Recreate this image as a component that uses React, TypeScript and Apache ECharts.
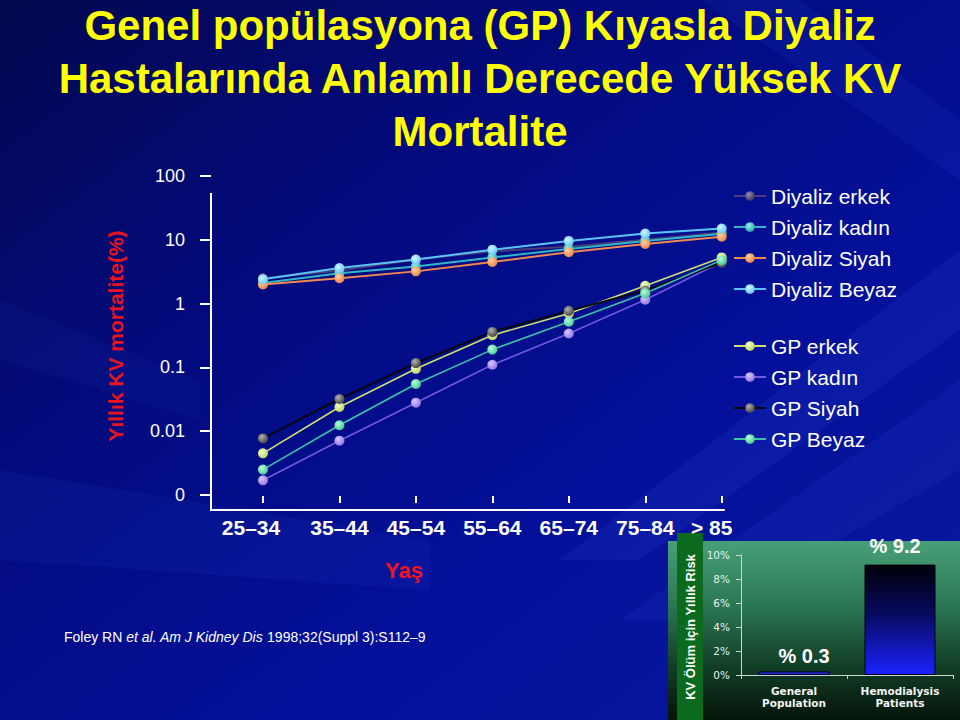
import React, { useEffect, useRef } from "react";
import * as echarts from "echarts";

// ---------- data ----------
const ageGroups = ["25–34", "35–44", "45–54", "55–64", "65–74", "75–84", "> 85"];
const ageIndex = [0, 1, 2, 3, 4, 5, 6];

const dialysisMale = [2.5, 3.3, 4.9, 6.6, 7.8, 10.0, 13.0];
const dialysisFemale = [2.1, 3.0, 3.8, 5.3, 7.2, 9.6, 12.4];
const dialysisBlack = [2.0, 2.5, 3.2, 4.5, 6.4, 8.6, 11.2];
const dialysisWhite = [2.4, 3.6, 4.9, 7.0, 9.6, 12.5, 15.0];

const gpMale = [0.0045, 0.024, 0.095, 0.32, 0.7, 1.9, 5.3];
const gpFemale = [0.0017, 0.0071, 0.028, 0.11, 0.34, 1.15, 4.5];
const gpBlack = [0.0077, 0.032, 0.117, 0.36, 0.77, 1.6, 4.4];
const gpWhite = [0.0025, 0.0124, 0.055, 0.19, 0.52, 1.45, 4.8];

const yTickValues = [0.001, 0.01, 0.1, 1, 10, 100];
const yTickLabels = ["0", "0.01", "0.1", "1", "10", "100"];

const insetCategories = ["General\nPopulation", "Hemodialysis\nPatients"];
const insetValues = [0.3, 9.2];

// ---------- styles ----------
const FONT = "Liberation Sans, Arial, sans-serif";

const seriesDefs = [
  { name: "Diyaliz erkek", data: dialysisMale, line: "#4a3c7a", light: "#9a8cb8", dark: "#3a2c5a", width: 2 },
  { name: "Diyaliz kadın", data: dialysisFemale, line: "#2fb6c8", light: "#8ff0e8", dark: "#2aa8a8", width: 2 },
  { name: "Diyaliz Siyah", data: dialysisBlack, line: "#f08850", light: "#ffd0a0", dark: "#e88040", width: 2 },
  { name: "Diyaliz Beyaz", data: dialysisWhite, line: "#5cc4f4", light: "#d0f4ff", dark: "#60c8f0", width: 2 },
  { name: "GP erkek", data: gpMale, line: "#cfe070", light: "#f4ffc0", dark: "#b8d060", width: 1.6 },
  { name: "GP kadın", data: gpFemale, line: "#7058e0", light: "#d8c8ff", dark: "#9070e0", width: 1.6 },
  { name: "GP Siyah", data: gpBlack, line: "#08080e", light: "#b0b0b0", dark: "#404040", width: 2 },
  { name: "GP Beyaz", data: gpWhite, line: "#3cc4a8", light: "#b8ffd8", dark: "#40c890", width: 1.6 },
];

const xMin = -0.68;
const xMax = 6.03;

function findTickLabel(v: number) {
  for (let i = 0; i < yTickValues.length; i++) {
    if (Math.abs(Math.log10(v) - Math.log10(yTickValues[i])) < 0.01) return yTickLabels[i];
  }
  return "";
}

const xLabelNudge: Record<number, string> = { 0: "a", 6: "b" };

const streak = (pts: number[][], alpha: number) => ({
  type: "polygon",
  z: -30,
  silent: true,
  shape: { points: pts },
  style: { fill: `rgba(70,110,255,${alpha})` },
});

function buildOption(): any {
  const lineSeries = seriesDefs.map((s) => ({
    type: "line",
    name: s.name,
    xAxisIndex: 0,
    yAxisIndex: 0,
    data: s.data.map((v, i) => [ageIndex[i], v]),
    symbol: "circle",
    symbolSize: 10,
    lineStyle: { color: s.line, width: s.width },
    itemStyle: {
      color: {
        type: "radial",
        x: 0.38,
        y: 0.35,
        r: 0.7,
        colorStops: [
          { offset: 0, color: s.light },
          { offset: 1, color: s.dark },
        ],
      },
    },
  }));

  const legendText = { color: "#ffffff", fontSize: 21, fontFamily: FONT, lineHeight: 22 };

  return {
    animation: false,
    backgroundColor: {
      type: "linear",
      x: 0,
      y: 0,
      x2: 1,
      y2: 1,
      colorStops: [
        { offset: 0, color: "#03084e" },
        { offset: 0.3, color: "#020a7a" },
        { offset: 0.65, color: "#04109a" },
        { offset: 1, color: "#0a1a9e" },
      ],
    },
    title: {
      text: "Genel popülasyona (GP) Kıyasla Diyaliz\nHastalarında Anlamlı Derecede Yüksek KV\nMortalite",
      left: "center",
      top: -6,
      textStyle: {
        color: "#ffff00",
        fontSize: 42,
        fontWeight: "bold",
        fontFamily: FONT,
        lineHeight: 53,
      },
    },
    legend: [
      {
        data: seriesDefs.slice(0, 4).map((s) => s.name),
        orient: "vertical",
        left: 733,
        top: 185,
        padding: 0,
        itemWidth: 32,
        itemHeight: 12,
        itemGap: 9,
        textStyle: legendText,
      },
      {
        data: seriesDefs.slice(4).map((s) => s.name),
        orient: "vertical",
        left: 733,
        top: 335,
        padding: 0,
        itemWidth: 32,
        itemHeight: 12,
        itemGap: 9,
        textStyle: legendText,
      },
    ],
    grid: [
      { left: 211, right: 236, top: 176, bottom: 210 },
      { left: 741, right: 7, top: 555, bottom: 45 },
    ],
    xAxis: [
      {
        gridIndex: 0,
        type: "value",
        min: xMin,
        max: xMax,
        position: "bottom",
        axisLine: { show: true, onZero: false, lineStyle: { color: "#ffffff", width: 2 } },
        axisTick: { show: false },
        axisLabel: { show: false },
        splitLine: { show: false },
      },
      {
        gridIndex: 0,
        type: "value",
        min: xMin,
        max: xMax,
        position: "bottom",
        offset: -7,
        axisLine: { show: false, onZero: false },
        axisTick: {
          show: true,
          inside: true,
          length: 7,
          customValues: ageIndex,
          lineStyle: { color: "#ffffff", width: 2 },
        },
        axisLabel: {
          show: true,
          customValues: ageIndex,
          margin: 14,
          color: "#ffffff",
          fontSize: 21,
          fontWeight: "bold",
          fontFamily: FONT,
          formatter: (v: number) => {
            const i = Math.round(v);
            const key = xLabelNudge[i];
            return key ? `{${key}|${ageGroups[i]}}` : ageGroups[i];
          },
          rich: {
            a: { fontSize: 21, fontWeight: "bold", fontFamily: FONT, color: "#ffffff", padding: [0, 24, 0, 0] },
            b: { fontSize: 21, fontWeight: "bold", fontFamily: FONT, color: "#ffffff", padding: [0, 20, 0, 0] },
          },
        },
        splitLine: { show: false },
      },
      {
        gridIndex: 1,
        type: "category",
        data: insetCategories,
        axisLine: { show: true, lineStyle: { color: "#c8d8d0", width: 1 } },
        axisTick: { show: true, length: 4, lineStyle: { color: "#c8d8d0" } },
        axisLabel: {
          interval: 0,
          margin: 10,
          color: "#f2f2f2",
          fontSize: 10.5,
          fontWeight: "bold",
          fontFamily: "DejaVu Sans, sans-serif",
          lineHeight: 12,
        },
        splitLine: { show: false },
      },
    ],
    yAxis: [
      {
        gridIndex: 0,
        type: "log",
        logBase: 10,
        min: 0.000582,
        max: 100,
        axisLine: { show: false, onZero: false },
        axisTick: {
          show: true,
          length: 11,
          customValues: yTickValues,
          lineStyle: { color: "#ffffff", width: 2 },
        },
        axisLabel: {
          customValues: yTickValues,
          margin: 26,
          color: "#ffffff",
          fontSize: 18,
          fontFamily: FONT,
          formatter: (v: number) => findTickLabel(v),
        },
        splitLine: { show: false },
      },
      {
        gridIndex: 1,
        type: "value",
        min: 0,
        max: 10,
        interval: 2,
        axisLine: { show: true, lineStyle: { color: "#c8d8d0", width: 1 } },
        axisTick: { show: true, length: 5, lineStyle: { color: "#c8d8d0" } },
        axisLabel: {
          margin: 11,
          color: "#e6f0ea",
          fontSize: 10.5,
          fontFamily: "DejaVu Sans, sans-serif",
          formatter: "{value}%",
        },
        splitLine: { show: false },
      },
    ],
    series: [
      ...lineSeries,
      {
        type: "bar",
        name: "inset",
        xAxisIndex: 2,
        yAxisIndex: 1,
        barWidth: 71,
        data: insetValues.map((v, i) => ({
          value: v,
          itemStyle:
            i === 0
              ? { color: "#1c2ad0", borderColor: "#000030", borderWidth: 1 }
              : {
                  color: {
                    type: "linear",
                    x: 0,
                    y: 0,
                    x2: 0,
                    y2: 1,
                    colorStops: [
                      { offset: 0, color: "#000008" },
                      { offset: 0.45, color: "#080a60" },
                      { offset: 1, color: "#1a22ff" },
                    ],
                  },
                  borderColor: "#000010",
                  borderWidth: 1,
                },
          label: {
            show: true,
            position: "top",
            distance: i === 0 ? 5 : 9,
            offset: i === 0 ? [10, 0] : [-5, 0],
            formatter: "% {c}",
            color: "#ffffff",
            fontSize: 20,
            fontWeight: "bold",
            fontFamily: FONT,
          },
        })),
      },
    ],
    graphic: [
      streak([[960, 250], [960, 330], [640, 560], [560, 560]], 0.1),
      streak([[960, 380], [960, 470], [700, 620], [620, 620]], 0.08),
      streak([[0, 470], [0, 560], [430, 590], [430, 540]], 0.07),
      streak([[700, 0], [800, 0], [960, 120], [960, 180]], 0.08),
      streak([[0, 300], [0, 360], [200, 420], [200, 380]], 0.05),
      {
        type: "rect",
        z: -10,
        shape: { x: 668, y: 541, width: 292, height: 179 },
        style: {
          fill: {
            type: "linear",
            x: 0,
            y: 0,
            x2: 0,
            y2: 1,
            colorStops: [
              { offset: 0, color: "#46a078" },
              { offset: 0.35, color: "#2c7854" },
              { offset: 0.7, color: "#123e26" },
              { offset: 1, color: "#05140a" },
            ],
          },
        },
      },
      {
        type: "rect",
        z: -9,
        shape: { x: 677, y: 533, width: 26, height: 187 },
        style: { fill: "#0b6a1e" },
      },
      {
        type: "text",
        z: -8,
        x: 690,
        y: 627,
        rotation: Math.PI / 2,
        style: {
          text: "KV Ölüm için Yıllık Risk",
          fill: "#ffffff",
          font: `bold 13px ${FONT}`,
          align: "center",
          verticalAlign: "middle",
        },
      },
      {
        type: "line",
        shape: { x1: 211, y1: 193, x2: 211, y2: 511 },
        style: { stroke: "#ffffff", lineWidth: 2 },
      },
      {
        type: "text",
        x: 115,
        y: 336,
        rotation: Math.PI / 2,
        style: {
          text: "Yıllık KV mortalite(%)",
          fill: "#e8141e",
          font: `bold 21px ${FONT}`,
          align: "center",
          verticalAlign: "middle",
        },
      },
      {
        type: "text",
        x: 404,
        y: 570,
        style: {
          text: "Yaş",
          fill: "#f01420",
          font: `bold 22px ${FONT}`,
          align: "center",
          verticalAlign: "middle",
        },
      },
      {
        type: "text",
        x: 64,
        y: 637,
        style: {
          text: "{n|Foley RN }{i|et al. Am J Kidney Dis}{n| 1998;32(Suppl 3):S112–9}",
          align: "left",
          verticalAlign: "middle",
          rich: {
            n: { fill: "#ffffff", fontSize: 14, fontFamily: FONT },
            i: { fill: "#ffffff", fontSize: 14, fontFamily: FONT, fontStyle: "italic" },
          },
        },
      },
    ],
  };
}

export default function App() {
  const ref = useRef<HTMLDivElement>(null);
  useEffect(() => {
    if (!ref.current) return;
    const chart = echarts.init(ref.current, null, { renderer: "svg" });
    chart.setOption(buildOption());
    return () => chart.dispose();
  }, []);
  return (
    <div
      ref={ref}
      style={{ position: "fixed", left: 0, top: 0, width: 960, height: 720 }}
    />
  );
}
